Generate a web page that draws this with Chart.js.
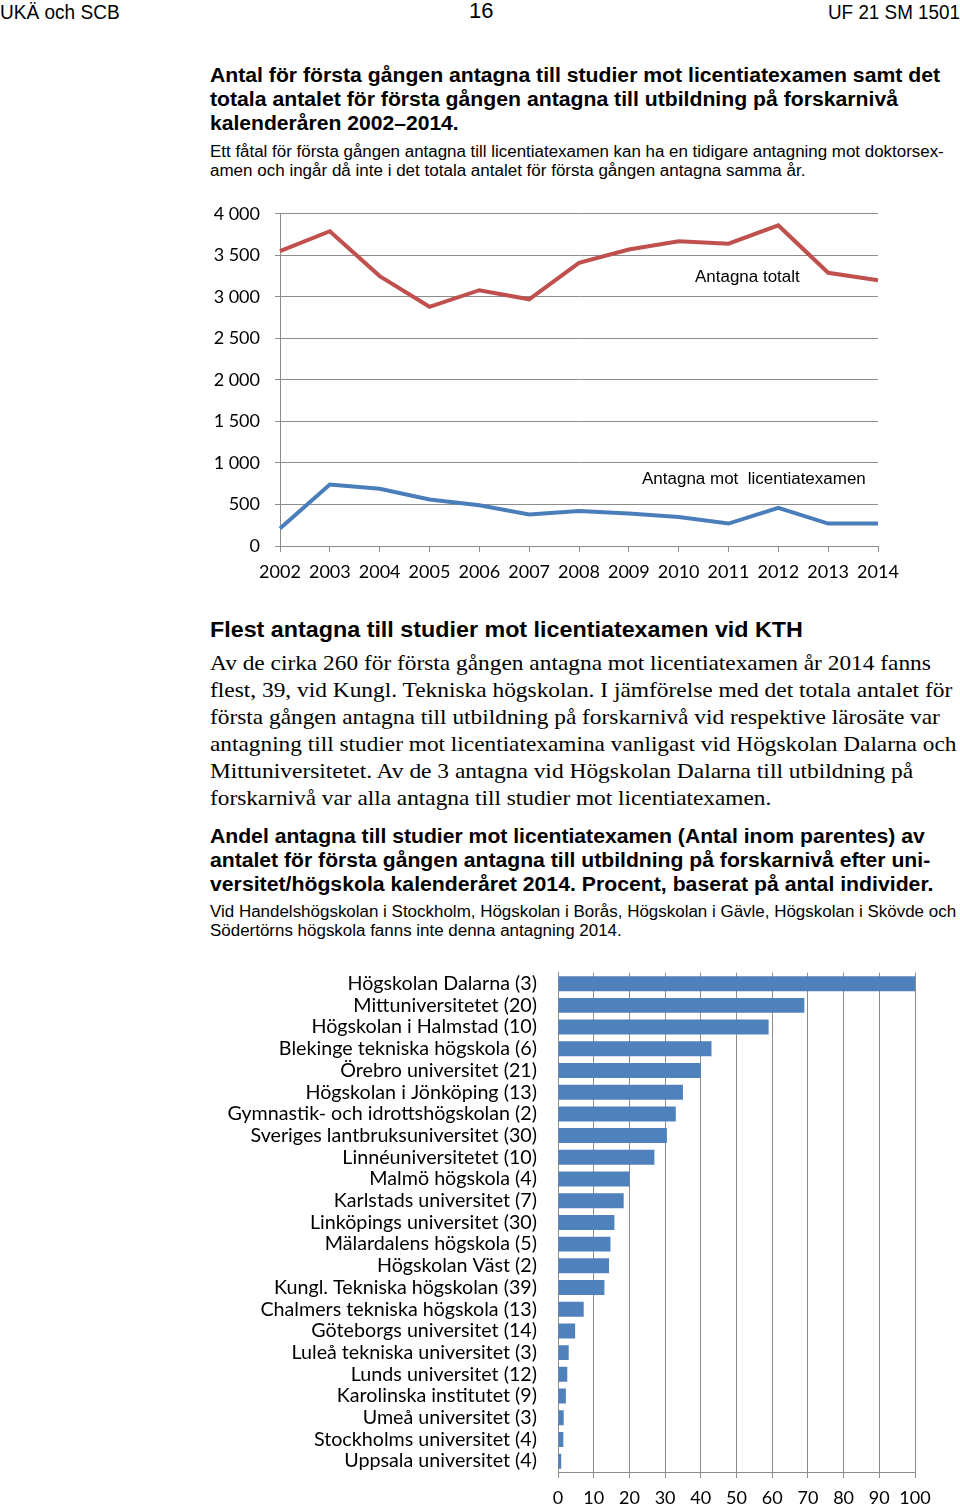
<!DOCTYPE html>
<html lang="sv">
<head>
<meta charset="utf-8">
<script src="https://cdn.jsdelivr.net/npm/chart.js@4.4.1/dist/chart.umd.min.js"></script>
<style>
  html, body { margin: 0; padding: 0; background: #fff; }
  #page { position: relative; width: 960px; height: 1509px; overflow: hidden; color: #000; }
  .ln { position: absolute; white-space: nowrap; transform-origin: left center; }
  .r  { transform-origin: right center; }
  .hd { font: 20px "Liberation Sans", Arial, sans-serif; line-height: 24px; }
  .t  { font: bold 20px "Liberation Sans", Arial, sans-serif; line-height: 24px; }
  .s  { font: 16px "Liberation Sans", Arial, sans-serif; line-height: 19px; }
  .h2 { font: bold 22px "Liberation Sans", Arial, sans-serif; line-height: 26px; }
  .p  { font: 22px "Liberation Serif", "Times New Roman", serif; line-height: 27px; }
  .an { font: 16px "Liberation Sans", Arial, sans-serif; line-height: 20px; }
  canvas { position: absolute; }
</style>
</head>
<body>
<div id="page">
  <div class="ln hd" style="left:0;top:0" data-w="120">UKÄ och SCB</div>
  <div class="ln hd" style="left:469px;top:-1px;font-size:22px" data-w="24">16</div>
  <div class="ln hd r" style="right:0;top:0" data-w="132">UF 21 SM 1501</div>

  <div class="ln t" style="left:210px;top:63px" data-w="730">Antal för första gången antagna till studier mot licentiatexamen samt det</div>
  <div class="ln t" style="left:210px;top:87px" data-w="688">totala antalet för första gången antagna till utbildning på forskarnivå</div>
  <div class="ln t" style="left:210px;top:111px" data-w="249">kalenderåren 2002–2014.</div>
  <div class="ln s" style="left:210px;top:142px" data-w="734">Ett fåtal för första gången antagna till licentiatexamen kan ha en tidigare antagning mot doktorsex-</div>
  <div class="ln s" style="left:210px;top:161px" data-w="595">amen och ingår då inte i det totala antalet för första gången antagna samma år.</div>

  <canvas id="lineChart" width="708" height="403" style="left:200px;top:188px"></canvas>
  <div class="ln an" style="left:695px;top:267px" data-w="105">Antagna totalt</div>
  <div class="ln an" style="left:642px;top:469px" data-w="224">Antagna mot&nbsp; licentiatexamen</div>

  <div class="ln h2" style="left:210px;top:617px" data-w="593">Flest antagna till studier mot licentiatexamen vid KTH</div>
  <div class="ln p" style="left:210px;top:649px" data-w="721">Av de cirka 260 för första gången antagna mot licentiatexamen år 2014 fanns</div>
  <div class="ln p" style="left:210px;top:676px" data-w="742">flest, 39, vid Kungl. Tekniska högskolan. I jämförelse med det totala antalet för</div>
  <div class="ln p" style="left:210px;top:703px" data-w="730">första gången antagna till utbildning på forskarnivå vid respektive lärosäte var</div>
  <div class="ln p" style="left:210px;top:730px" data-w="746">antagning till studier mot licentiatexamina vanligast vid Högskolan Dalarna och</div>
  <div class="ln p" style="left:210px;top:757px" data-w="703">Mittuniversitetet. Av de 3 antagna vid Högskolan Dalarna till utbildning på</div>
  <div class="ln p" style="left:210px;top:784px" data-w="561">forskarnivå var alla antagna till studier mot licentiatexamen.</div>

  <div class="ln t" style="left:210px;top:824px" data-w="715">Andel antagna till studier mot licentiatexamen (Antal inom parentes) av</div>
  <div class="ln t" style="left:210px;top:848px" data-w="720">antalet för första gången antagna till utbildning på forskarnivå efter uni-</div>
  <div class="ln t" style="left:210px;top:872px" data-w="723">versitet/högskola kalenderåret 2014. Procent, baserat på antal individer.</div>
  <div class="ln s" style="left:210px;top:902px" data-w="746">Vid Handelshögskolan i Stockholm, Högskolan i Borås, Högskolan i Gävle, Högskolan i Skövde och</div>
  <div class="ln s" style="left:210px;top:921px" data-w="412">Södertörns högskola fanns inte denna antagning 2014.</div>

  <canvas id="barChart" width="745" height="559" style="left:200px;top:948px"></canvas>
</div>

<script>
// Linjediagram: antagna per kalenderår
const years = ['2002', '2003', '2004', '2005', '2006', '2007', '2008', '2009', '2010', '2011', '2012', '2013', '2014'];
const antagnaTotalt = [3550, 3790, 3250, 2880, 3080, 2970, 3410, 3570, 3670, 3640, 3860, 3290, 3200];
const antagnaLic    = [210, 740, 690, 560, 490, 380, 420, 390, 350, 270, 460, 270, 270];

// Stapeldiagram: andel (%) per lärosäte 2014
const larosaten = [
    'Högskolan Dalarna (3)', 'Mittuniversitetet (20)', 'Högskolan i Halmstad (10)',
    'Blekinge tekniska högskola (6)', 'Örebro universitet (21)', 'Högskolan i Jönköping (13)',
    'Gymnastik- och idrottshögskolan (2)', 'Sveriges lantbruksuniversitet (30)', 'Linnéuniversitetet (10)',
    'Malmö högskola (4)', 'Karlstads universitet (7)', 'Linköpings universitet (30)',
    'Mälardalens högskola (5)', 'Högskolan Väst (2)', 'Kungl. Tekniska högskolan (39)',
    'Chalmers tekniska högskola (13)', 'Göteborgs universitet (14)', 'Luleå tekniska universitet (3)',
    'Lunds universitet (12)', 'Karolinska institutet (9)', 'Umeå universitet (3)',
    'Stockholms universitet (4)', 'Uppsala universitet (4)'
];
const andel = [100, 69, 59, 43, 40, 35, 33, 30.5, 27, 20, 18.4, 15.8, 14.7, 14.3, 13, 7.2, 4.8, 3, 2.6, 2.2, 1.6, 1.5, 0.9];

const gridCol = '#8c8c8c';
const axisFont = { family: 'Lato, "Open Sans", sans-serif', size: 18 };
const catFont  = { family: 'Lato, "Open Sans", sans-serif', size: 19.7 };

// squeeze each text line to the width it has on the printed page
document.querySelectorAll('.ln').forEach(el => {
    const w = +el.dataset.w;
    if (w) el.style.transform = 'scaleX(' + (w / el.offsetWidth) + ')';
});

const fmt = v => String(v).replace(/\B(?=(\d{3})+$)/g, ' ');

new Chart(document.getElementById('lineChart'), {
    type: 'line',
    data: {
        labels: years,
        datasets: [
            { label: 'Antagna totalt', data: antagnaTotalt, borderColor: '#c0504d', borderWidth: 4, pointRadius: 0, tension: 0 },
            { label: 'Antagna mot licentiatexamen', data: antagnaLic, borderColor: '#4a7ebb', borderWidth: 4, pointRadius: 0, tension: 0 }
        ]
    },
    options: {
        responsive: false,
        animation: false,
        layout: { padding: { top: 15, right: 30, left: 0, bottom: 0 } },
        plugins: { legend: { display: false }, tooltip: { enabled: false } },
        scales: {
            x: {
                offset: false,
                grid: { drawOnChartArea: false, drawTicks: true, tickLength: 6, color: gridCol },
                border: { display: true, color: gridCol },
                ticks: { color: '#000', font: axisFont, padding: 9, autoSkip: false, maxRotation: 0 },
                afterFit: s => { s.height = 45; }
            },
            y: {
                min: 0, max: 4000,
                grid: { color: gridCol, tickLength: 5 },
                border: { display: true, color: gridCol },
                ticks: { stepSize: 500, color: '#000', font: axisFont, padding: 15, callback: v => fmt(v) },
                afterFit: s => { s.width = 80; }
            }
        }
    }
});

new Chart(document.getElementById('barChart'), {
    type: 'bar',
    data: {
        labels: larosaten,
        datasets: [
            { label: 'Andel', data: andel, backgroundColor: '#4f81bd', categoryPercentage: 1, barPercentage: 0.69 }
        ]
    },
    options: {
        indexAxis: 'y',
        responsive: false,
        animation: false,
        layout: { padding: { top: 8, right: 30, left: 0, bottom: 0 } },
        plugins: { legend: { display: false }, tooltip: { enabled: false } },
        scales: {
            x: {
                min: 0, max: 100,
                grid: { color: gridCol, tickLength: 6 },
                border: { display: true, color: gridCol },
                ticks: { stepSize: 10, color: '#000', font: axisFont, padding: 9, maxRotation: 0 },
                afterFit: s => { s.height = 35; }
            },
            y: {
                grid: { display: false },
                border: { display: true, color: gridCol },
                ticks: { color: '#000', font: catFont, padding: 13, autoSkip: false },
                afterFit: s => { s.width = 358; }
            }
        }
    }
});
</script>
</body>
</html>
